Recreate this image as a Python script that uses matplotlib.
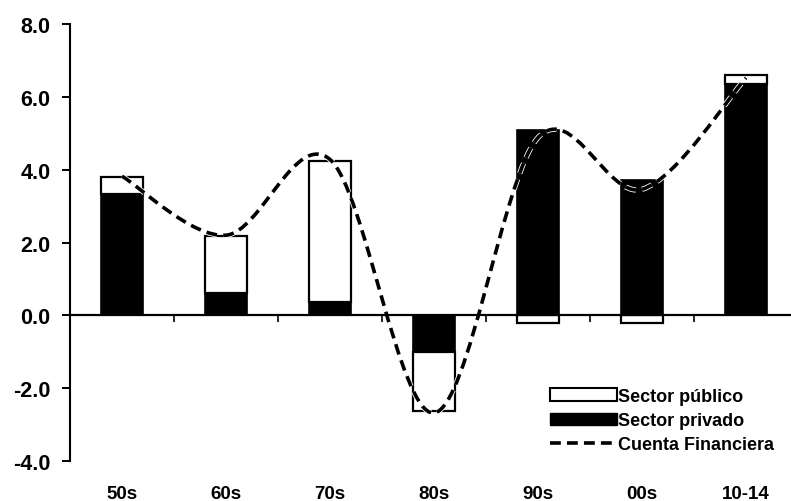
import numpy as np
import matplotlib
matplotlib.use("Agg")
import matplotlib.pyplot as plt
import matplotlib.patheffects as pe
from matplotlib.path import Path
from matplotlib.patches import PathPatch, Patch
from matplotlib.lines import Line2D

plt.rcParams['font.family'] = ['Liberation Sans', 'DejaVu Sans']

categories = ["50s", "60s", "70s", "80s", "90s", "00s", "10-14"]
sector_privado = [3.33, 0.62, 0.37, -1.0, 5.1, 3.72, 6.35]
sector_publico = [0.47, 1.57, 3.88, -1.63, -0.22, -0.22, 0.25]
cuenta_financiera = [3.82, 2.2, 4.28, -2.68, 4.88, 3.46, 6.52]
yticks = [-4.0, -2.0, 0.0, 2.0, 4.0, 6.0, 8.0]

fig = plt.figure(figsize=(7.91, 5.02), dpi=100)
ax = fig.add_axes([70/791, 40/502, 728/791, 437/502])

x = np.arange(len(categories))
priv = np.array(sector_privado)
pub = np.array(sector_publico)
# stack: publico on top of privado when same sign, otherwise from zero
pub_bottom = np.where(np.sign(pub) == np.sign(priv), priv, 0.0)

w = 0.405
ax.bar(x, priv, w, color='black', edgecolor='black', linewidth=1.2, zorder=2)
ax.bar(x, pub, w, bottom=pub_bottom, color='white', edgecolor='black', linewidth=1.6, zorder=2)

# smooth line (Catmull-Rom style Bezier through data points)
ys = np.array(cuenta_financiera)
pts = np.column_stack([x, ys]).astype(float)
ext = np.vstack([pts[0], pts, pts[-1]])
verts = [tuple(pts[0])]
codes = [Path.MOVETO]
for i in range(len(pts) - 1):
    p0, p1, p2, p3 = ext[i], ext[i + 1], ext[i + 2], ext[i + 3]
    c1 = p1 + (p2 - p0) / 6.0
    c2 = p2 - (p3 - p1) / 6.0
    verts += [tuple(c1), tuple(c2), tuple(p2)]
    codes += [Path.CURVE4] * 3
path = Path(verts, codes)
dash = (0, (3.0, 1.7))
ax.add_patch(PathPatch(path, fill=False, edgecolor='black', linewidth=2.6,
                       linestyle=dash, transform=ax.transData, zorder=3,
                       path_effects=[pe.Stroke(linewidth=3.8, foreground='white'), pe.Normal()]))

ax.axhline(0, color='black', linewidth=1.6, zorder=4)

ax.set_xlim(-0.5, len(categories) - 0.5)
ax.set_ylim(-4, 8)
ax.set_yticks(yticks)
ax.set_yticklabels([f"{v:.1f}" for v in yticks], fontsize=15.5, fontweight='bold')
ax.set_xticks(x)
ax.set_xticklabels(categories, fontsize=13.5, fontweight='bold')
ax.tick_params(axis='x', length=0, pad=17)
ax.tick_params(axis='y', direction='out', length=6, width=1.4, pad=8)

for s in ['top', 'right', 'bottom']:
    ax.spines[s].set_visible(False)
ax.spines['left'].set_linewidth(1.5)

sec = ax.secondary_xaxis(4/12)
sec.set_xticks(x[:-1] + 0.5)
sec.set_xticklabels([])
sec.tick_params(direction='out', length=5, width=1.2)
sec.spines['bottom'].set_visible(False)

handles = [Patch(facecolor='white', edgecolor='black', linewidth=1.5),
           Patch(facecolor='black', edgecolor='black'),
           Line2D([0], [0], color='black', linewidth=2.6, linestyle=dash)]
labels = ["Sector público", "Sector privado", "Cuenta Financiera"]
leg = ax.legend(handles, labels, loc='lower right', bbox_to_anchor=(0.99, -0.02),
                frameon=False, handlelength=3.7, handletextpad=0.1,
                labelspacing=0.4, prop={'size': 13, 'weight': 'bold'})

fig.savefig("out.png", dpi=100, facecolor='white')
